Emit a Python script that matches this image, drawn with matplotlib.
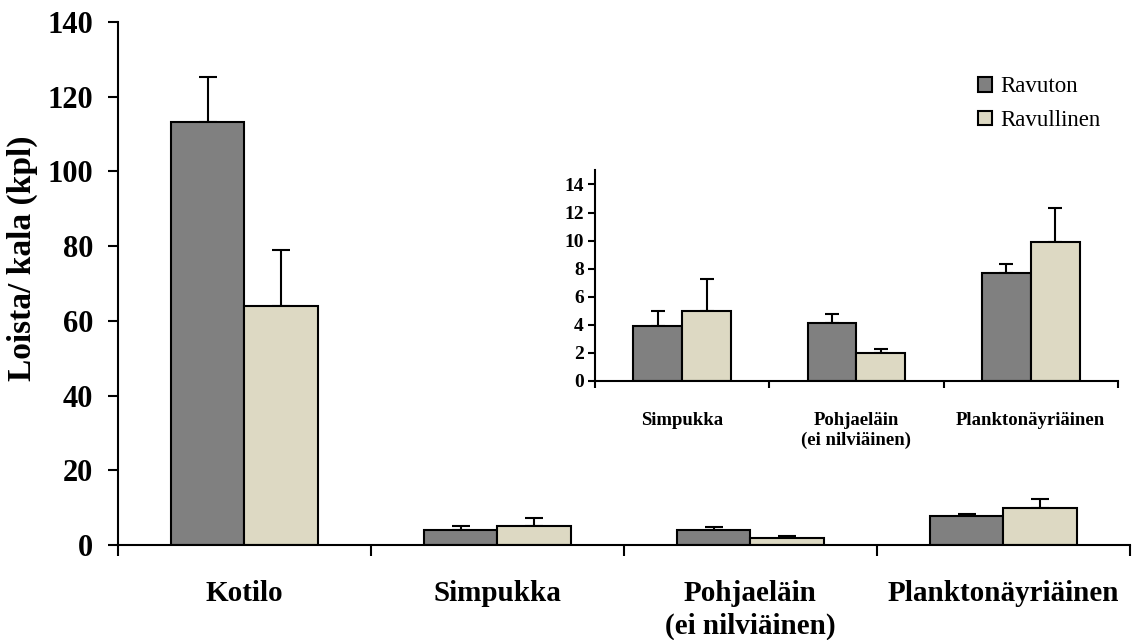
import numpy as np
import matplotlib.pyplot as plt
from matplotlib.patches import Patch

plt.rcParams['font.family'] = ['Liberation Serif', 'DejaVu Serif']

# data
categories = ["Kotilo", "Simpukka", "Pohjaeläin\n(ei nilviäinen)", "Planktonäyriäinen"]
ravuton = [113.2, 3.9, 4.15, 7.7]
ravuton_err = [12.0, 1.1, 0.6, 0.6]
ravullinen = [64.0, 5.0, 2.0, 9.9]
ravullinen_err = [15.0, 2.3, 0.3, 2.4]
series_names = ["Ravuton", "Ravullinen"]

dark = "#808080"
light = "#DDD9C3"

fig = plt.figure(figsize=(11.32, 6.4), dpi=100)

# main axes
ax = fig.add_axes([0.1042, 0.1484, 0.894, 0.8172])
x = np.arange(len(categories))
w = 0.29
ax.bar(x - w / 2, ravuton, w, color=dark, edgecolor="black", linewidth=1.5, zorder=2)
ax.bar(x + w / 2, ravullinen, w, color=light, edgecolor="black", linewidth=1.5, zorder=2)
ax.errorbar(x - w / 2, ravuton, yerr=[np.zeros(4), ravuton_err], fmt="none",
            ecolor="black", elinewidth=1.5, capsize=6.5, capthick=1.5, zorder=1)
ax.errorbar(x + w / 2, ravullinen, yerr=[np.zeros(4), ravullinen_err], fmt="none",
            ecolor="black", elinewidth=1.5, capsize=6.5, capthick=1.5, zorder=1)

ax.set_xlim(-0.5, len(categories) - 0.5)
ax.set_ylim(0, 140)
ax.set_yticks(range(0, 141, 20))
ax.set_xticks(np.arange(-0.5, len(categories), 1.0))
ax.set_xticklabels([])
ax.set_xticks(x, minor=True)
ax.set_xticklabels(categories, minor=True, fontsize=21, fontweight="bold", linespacing=1.3)
ax.tick_params(axis="x", which="minor", length=0, pad=25)
ax.tick_params(axis="x", which="major", direction="out", length=8, width=1.5)
ax.tick_params(axis="y", direction="out", length=7, width=1.5, pad=11, labelsize=22)
for lab in ax.get_yticklabels():
    lab.set_fontweight("bold")
ax.set_ylabel("Loista/ kala (kpl)", fontsize=24, fontweight="bold")
ax.yaxis.set_label_coords(-0.079, 0.549)
for s in ["top", "right"]:
    ax.spines[s].set_visible(False)
for s in ["left", "bottom"]:
    ax.spines[s].set_linewidth(1.5)

handles = [Patch(facecolor=dark, edgecolor="black", linewidth=1.5),
           Patch(facecolor=light, edgecolor="black", linewidth=1.5)]
fig.legend(handles, series_names, loc="upper left", bbox_to_anchor=(0.856, 0.895),
           frameon=False, fontsize=16.5, handlelength=0.6, handleheight=0.6,
           handletextpad=0.35, labelspacing=0.55, borderaxespad=0)

# inset axes
ins_cats = categories[1:]
ax2 = fig.add_axes([0.5256, 0.4047, 0.462, 0.329])
xi = np.arange(len(ins_cats))
wi = 0.28
ax2.bar(xi - wi / 2, ravuton[1:], wi, color=dark, edgecolor="black", linewidth=1.5, zorder=2)
ax2.bar(xi + wi / 2, ravullinen[1:], wi, color=light, edgecolor="black", linewidth=1.5, zorder=2)
ax2.errorbar(xi - wi / 2, ravuton[1:], yerr=[np.zeros(3), ravuton_err[1:]], fmt="none",
             ecolor="black", elinewidth=1.5, capsize=5, capthick=1.5, zorder=1)
ax2.errorbar(xi + wi / 2, ravullinen[1:], yerr=[np.zeros(3), ravullinen_err[1:]], fmt="none",
             ecolor="black", elinewidth=1.5, capsize=5, capthick=1.5, zorder=1)
ax2.set_xlim(-0.5, len(ins_cats) - 0.5)
ax2.set_ylim(0, 15)
ax2.set_yticks(range(0, 15, 2))
ax2.set_xticks(np.arange(-0.5, len(ins_cats), 1.0))
ax2.set_xticklabels([])
ax2.set_xticks(xi, minor=True)
ax2.set_xticklabels(ins_cats, minor=True, fontsize=13.5, fontweight="bold", linespacing=1.2)
ax2.tick_params(axis="x", which="minor", length=0, pad=22)
ax2.tick_params(axis="x", which="major", direction="out", length=5, width=1.5)
ax2.tick_params(axis="y", direction="out", length=5, width=1.5, pad=3, labelsize=14)
for lab in ax2.get_yticklabels():
    lab.set_fontweight("bold")
for s in ["top", "right"]:
    ax2.spines[s].set_visible(False)
for s in ["left", "bottom"]:
    ax2.spines[s].set_linewidth(1.5)
ax2.patch.set_alpha(0)

fig.savefig("out.png", dpi=100)
